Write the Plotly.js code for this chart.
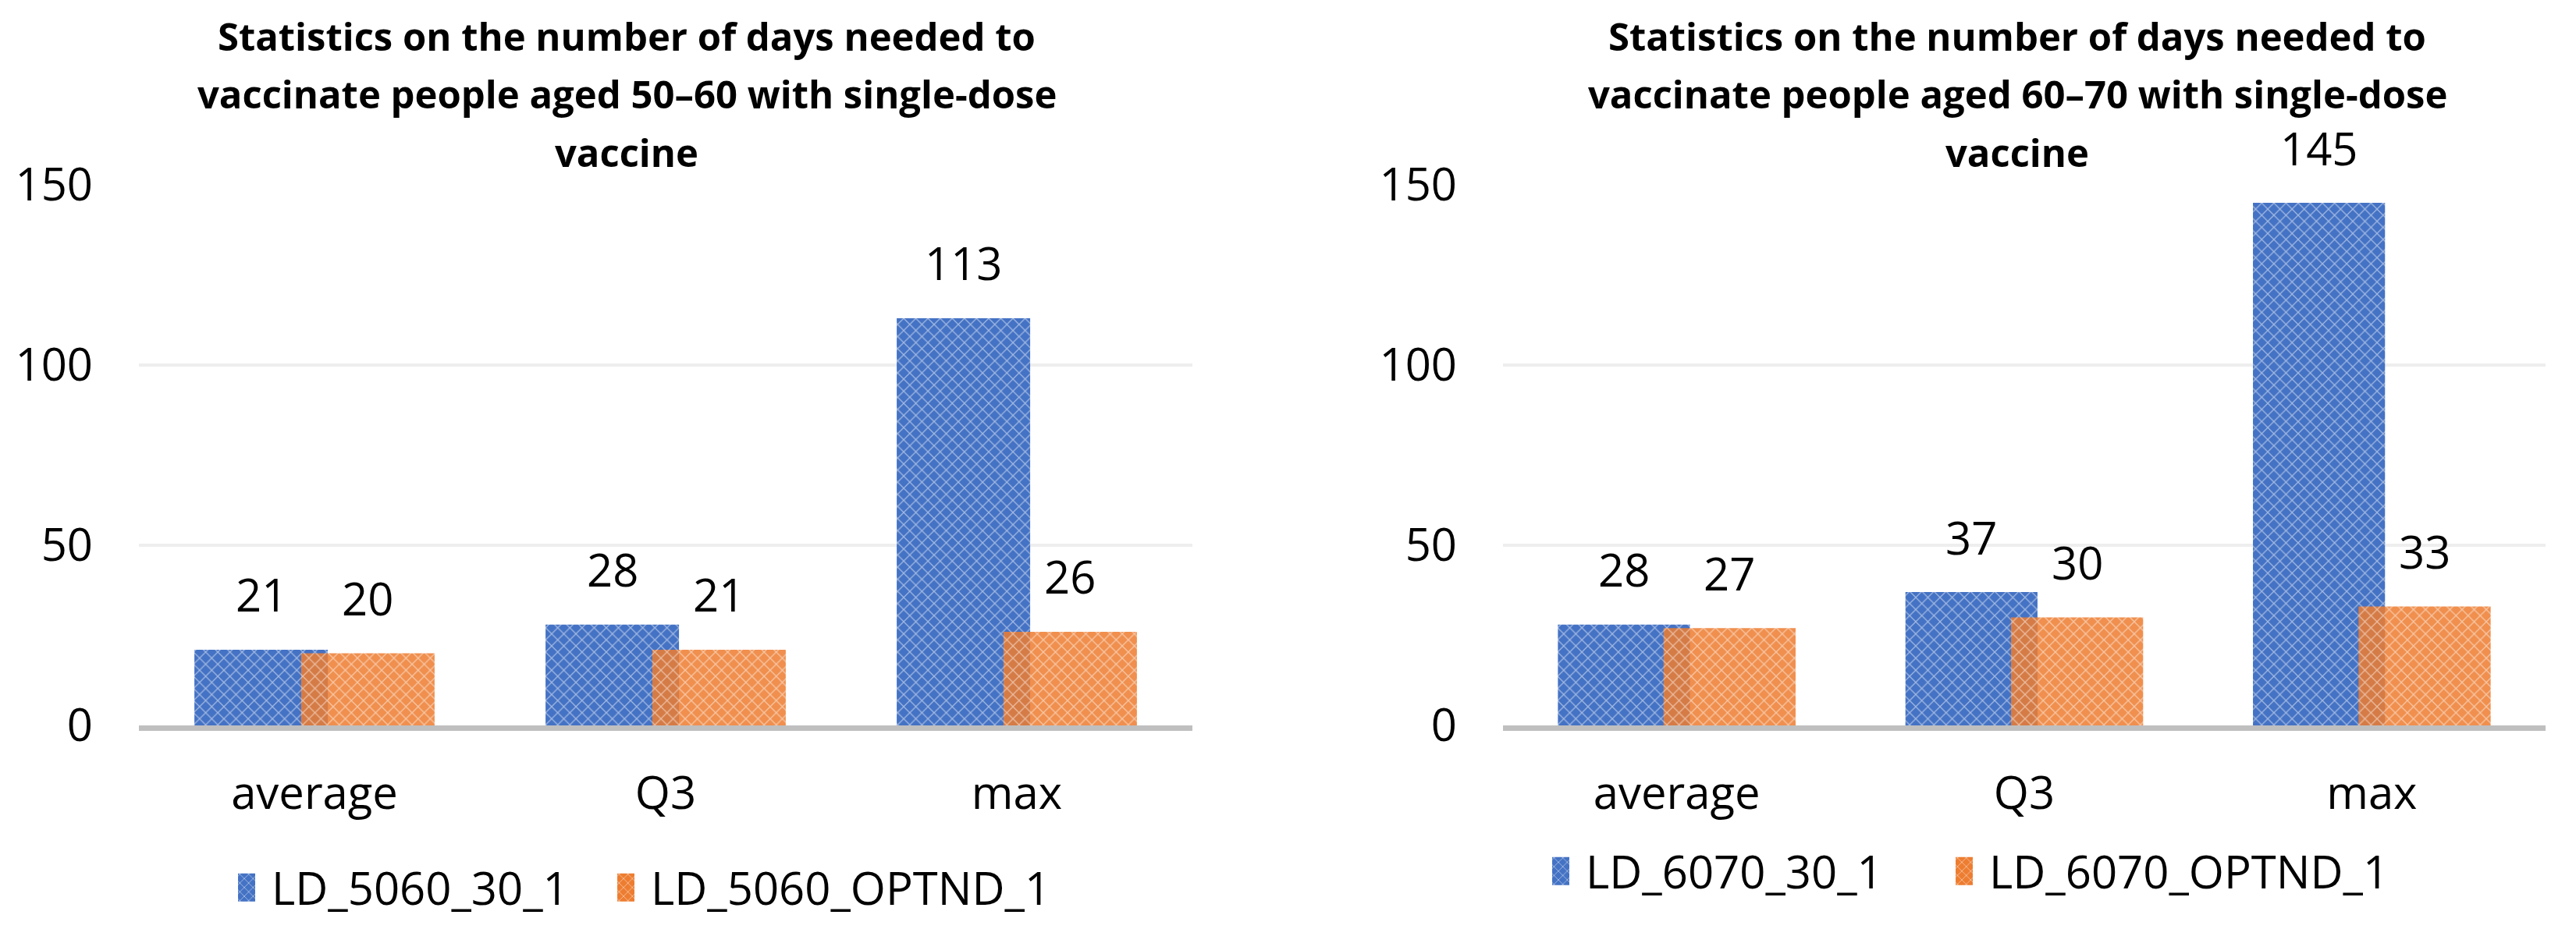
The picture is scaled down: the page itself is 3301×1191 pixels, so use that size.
<!DOCTYPE html>
<html>
<head>
<meta charset="utf-8">
<script src="https://cdn.plot.ly/plotly-3.0.1.min.js"></script>
<style>
html,body{margin:0;padding:0;background:#fff;}
#chart{width:3301px;height:1191px;}
</style>
</head>
<body>
<div id="chart"></div>
<script>
// ---- data ----
const categories = ['average', 'Q3', 'max'];
const leftSeriesNames = ['LD_5060_30_1', 'LD_5060_OPTND_1'];
const rightSeriesNames = ['LD_6070_30_1', 'LD_6070_OPTND_1'];
const left_30_1 = [21, 28, 113];
const left_OPTND_1 = [20, 21, 26];
const right_30_1 = [28, 37, 145];
const right_OPTND_1 = [27, 30, 33];
const leftTitleLines = ['Statistics on the number of days needed to', 'vaccinate people aged 50\u201360 with single-dose', 'vaccine'];
const rightTitleLines = ['Statistics on the number of days needed to', 'vaccinate people aged 60\u201370 with single-dose', 'vaccine'];
const yTickVals = [0, 50, 100, 150];

// ---- styling ----
const W = 3301, H = 1191;
const FONT = 'Open Sans, Noto Sans, sans-serif';
const BLUE = '#4472C4', ORANGE = '#ED7D31';
const BAR_W = 0.38;
const OFF_A = -0.342, OFF_B = -0.038;
const yTop = 237, yBase = 930;
const leftDom = [178 / W, 1528 / W];
const rightDom = [1926 / W, 3262 / W];
const yDom = [(H - yBase) / H, (H - yTop) / H];

function pattern(bg) {
  return {shape: 'x', size: 11, solidity: 0.22, fgcolor: '#ffffff', fgopacity: 0.5, bgcolor: bg, fillmode: 'replace'};
}
function barTrace(vals, name, color, off, xa, ya, leg, op) {
  return {
    type: 'bar', x: categories, y: vals, name: name,
    width: BAR_W, offset: off, xaxis: xa, yaxis: ya, legend: leg,
    marker: {color: color, pattern: pattern(color), line: {width: 0}, opacity: op},
    hoverinfo: 'skip', cliponaxis: false
  };
}

const traces = [
  barTrace(left_30_1, leftSeriesNames[0], BLUE, OFF_A, 'x', 'y', 'legend', 1),
  barTrace(left_OPTND_1, leftSeriesNames[1], ORANGE, OFF_B, 'x', 'y', 'legend2', 0.86),
  barTrace(right_30_1, rightSeriesNames[0], BLUE, OFF_A, 'x2', 'y2', 'legend3', 1),
  barTrace(right_OPTND_1, rightSeriesNames[1], ORANGE, OFF_B, 'x2', 'y2', 'legend4', 0.86)
];

// value labels
const annotations = [];
const cA = OFF_A + BAR_W / 2, cB = OFF_B + BAR_W / 2;
function addLabels(vals, c, xr, yr) {
  vals.forEach(function (v, i) {
    annotations.push({x: i + c, y: v, xref: xr, yref: yr, text: String(v), showarrow: false,
      yanchor: 'middle', yshift: 71, font: {family: FONT, size: 58, color: '#000'}});
  });
}
addLabels(left_30_1, cA, 'x', 'y');
addLabels(left_OPTND_1, cB, 'x', 'y');
addLabels(right_30_1, cA, 'x2', 'y2');
addLabels(right_OPTND_1, cB, 'x2', 'y2');

// titles
const titleY = [46, 120, 195];
function addTitle(lines, cx) {
  lines.forEach(function (t, i) {
    annotations.push({x: cx / W, y: 1 - titleY[i] / H, xref: 'paper', yref: 'paper', text: '<b>' + t + '</b>',
      showarrow: false, xanchor: 'center', yanchor: 'middle', font: {family: FONT, size: 49, color: '#000'}});
  });
}
addTitle(leftTitleLines, 803);
addTitle(rightTitleLines, 2585);

function xAxis(dom, anchor) {
  return {domain: dom, anchor: anchor, type: 'category', range: [-0.5, 2.5], showgrid: false, zeroline: false,
    showline: true, linecolor: '#bfbfbf', linewidth: 7, ticks: '', ticklabelstandoff: 30,
    tickfont: {family: FONT, size: 58, color: '#000'}, fixedrange: true};
}
function yAxis(dom, anchor) {
  return {domain: dom, anchor: anchor, range: [0, 150], tickvals: yTickVals, showgrid: true, gridcolor: '#eeeeee',
    gridwidth: 4, zeroline: false, showline: false, ticks: '', ticklabelstandoff: 58,
    tickfont: {family: FONT, size: 58, color: '#000'}, fixedrange: true};
}

const ITEM_W = 60;
function legend(textX, yc) {
  return {orientation: 'h', x: (textX - ITEM_W - 10) / W, y: 1 - yc / H, xanchor: 'left', yanchor: 'middle',
    xref: 'paper', yref: 'paper', itemwidth: ITEM_W,
    font: {family: FONT, size: 58, color: '#000'},
    bgcolor: 'rgba(0,0,0,0)', borderwidth: 0};
}

const layout = {
  width: W, height: H, margin: {l: 0, r: 0, t: 0, b: 0},
  paper_bgcolor: '#fff', plot_bgcolor: '#fff',
  barmode: 'overlay', showlegend: true,
  font: {family: FONT, color: '#000'},
  xaxis: xAxis(leftDom, 'y'), yaxis: yAxis(yDom, 'x'),
  xaxis2: xAxis(rightDom, 'y2'), yaxis2: yAxis(yDom, 'x2'),
  legend: legend(348, 1138),
  legend2: legend(834, 1138),
  legend3: legend(2032, 1117),
  legend4: legend(2549, 1117),
  annotations: annotations
};

Plotly.newPlot('chart', traces, layout, {staticPlot: true, displayModeBar: false}).then(function (gd) {
  // legend keys sized like the reference keys
  gd.querySelectorAll('.legendpoints path').forEach(function (p) {
    p.setAttribute('d', 'M14,18H-8V-18H14Z');
  });
});
</script>
</body>
</html>
